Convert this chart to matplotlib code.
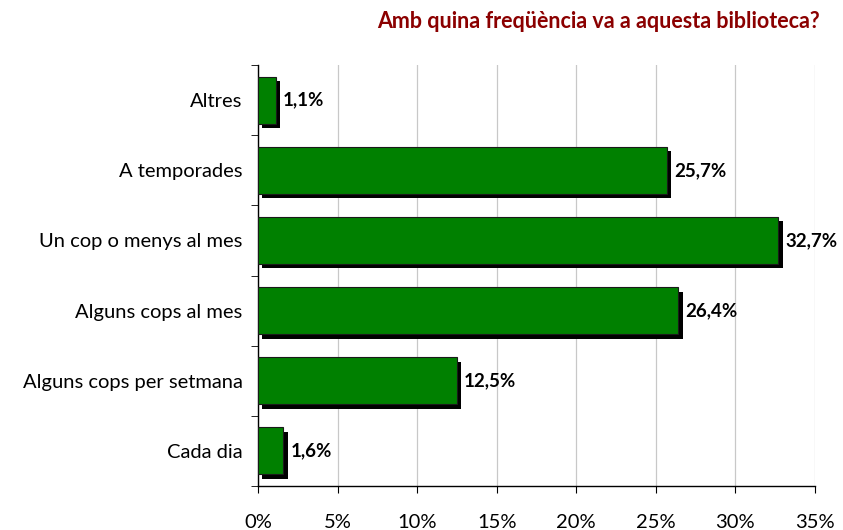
import matplotlib
matplotlib.use("Agg")
import matplotlib.pyplot as plt
import matplotlib.patheffects as pe
import numpy as np

categories = ["Altres", "A temporades", "Un cop o menys al mes", "Alguns cops al mes",
              "Alguns cops per setmana", "Cada dia"]
values = [1.1, 25.7, 32.7, 26.4, 12.5, 1.6]
value_labels = ["1,1%", "25,7%", "32,7%", "26,4%", "12,5%", "1,6%"]
xticks = [0, 5, 10, 15, 20, 25, 30, 35]
xtick_labels = ["0%", "5%", "10%", "15%", "20%", "25%", "30%", "35%"]
title = "Amb quina freqüència va a aquesta biblioteca?"

plt.rcParams['font.family'] = ['Lato', 'DejaVu Sans']

fig = plt.figure(figsize=(8.43, 5.30), dpi=100)
ax = fig.add_axes([258/843, 1-486/530, (815-258)/843, (486-65)/530])

n = len(categories)
ypos = np.arange(n)[::-1]
bars = ax.barh(ypos, values, height=0.67, color="#008000", edgecolor="#1a1a1a",
               linewidth=0.8, zorder=3)
for b in bars:
    b.set_path_effects([pe.SimplePatchShadow(offset=(3.2, -3.2), shadow_rgbFace="black", alpha=1.0),
                        pe.Normal()])

for y, v, lab in zip(ypos, values, value_labels):
    ax.annotate(lab, (v, y), xytext=(5, 0), textcoords="offset points",
                ha="left", va="center", fontsize=13.5, fontweight="bold", color="black")

ax.set_xlim(0, 35)
ax.set_ylim(-0.5, n - 0.5)
ax.set_xticks(xticks)
ax.set_xticklabels(xtick_labels, fontsize=14.5)
ax.set_yticks(ypos)
ax.set_yticklabels(categories, fontsize=14.5)
ax.set_yticks(np.arange(-0.5, n, 1), minor=True)
ax.tick_params(axis="y", which="major", length=0, pad=11)
ax.tick_params(axis="y", which="minor", length=5, direction="out")
ax.tick_params(axis="x", which="major", length=5, direction="out", pad=15)
ax.grid(axis="x", color="#c8c8c8", linewidth=0.9, zorder=0)
ax.set_axisbelow(True)
for s in ["top", "right"]:
    ax.spines[s].set_visible(False)
ax.spines["left"].set_linewidth(1.0)
ax.spines["bottom"].set_linewidth(1.0)

fig.text(820/843, 1-22/530, title, ha="right", va="center", fontsize=15.5,
         fontweight="bold", color="#8B0000")

fig.savefig("out.png", dpi=100)
